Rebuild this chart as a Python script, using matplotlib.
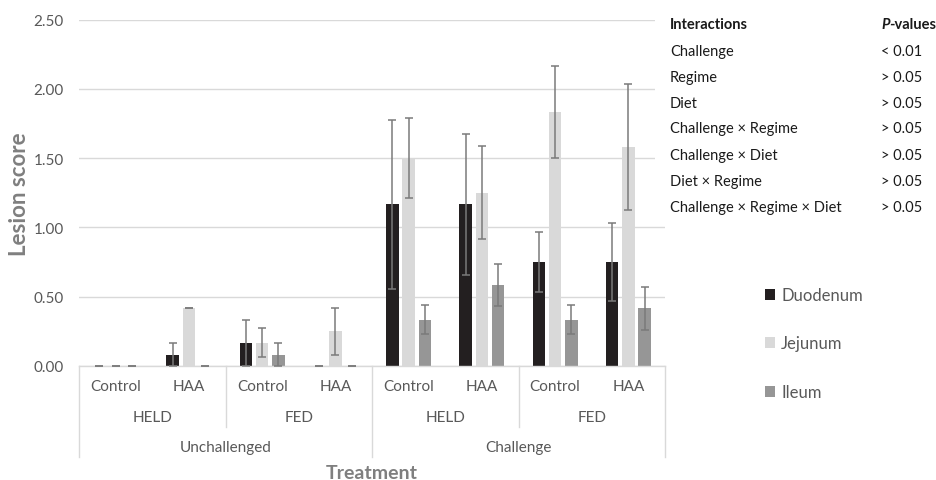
import matplotlib
matplotlib.use("Agg")
import matplotlib.pyplot as plt
import numpy as np
from matplotlib.patches import Rectangle
import matplotlib.transforms as mtransforms

plt.rcParams['font.family'] = ['Lato', 'DejaVu Sans']

# ---- data ----
diets = ["Control", "HAA", "Control", "HAA", "Control", "HAA", "Control", "HAA"]
regimes = ["HELD", "FED", "HELD", "FED"]
challenges = ["Unchallenged", "Challenge"]
series = ["Duodenum", "Jejunum", "Ileum"]

duodenum = [0.0, 0.083, 0.167, 0.0, 1.167, 1.167, 0.75, 0.75]
duodenum_err = [0.0, 0.083, 0.167, 0.0, 0.61, 0.51, 0.214, 0.283]
jejunum = [0.0, 0.417, 0.167, 0.25, 1.50, 1.25, 1.833, 1.583]
jejunum_err = [0.0, 0.0, 0.105, 0.17, 0.29, 0.335, 0.335, 0.455]
ileum = [0.0, 0.0, 0.083, 0.0, 0.333, 0.583, 0.333, 0.417]
ileum_err = [0.0, 0.0, 0.083, 0.0, 0.105, 0.153, 0.105, 0.155]

interactions = ["Challenge", "Regime", "Diet", "Challenge \u00d7 Regime",
                "Challenge \u00d7 Diet", "Diet \u00d7 Regime",
                "Challenge \u00d7 Regime \u00d7 Diet"]
p_values = ["< 0.01", "> 0.05", "> 0.05", "> 0.05", "> 0.05", "> 0.05", "> 0.05"]

colors = ["#231f20", "#d9d9d9", "#969696"]
err_color = "#7a7a7a"
text_gray = "#595959"
grid_gray = "#d9d9d9"

W, H = 936, 481
fig = plt.figure(figsize=(W / 100, H / 100), dpi=100)
ax = fig.add_axes([79 / W, 1 - 367 / H, (665 - 79) / W, (367 - 20.7) / H])

x = np.arange(len(diets))
offsets = [-0.222, 0.0, 0.222]
width = 0.173
vals = [duodenum, jejunum, ileum]
errs = [duodenum_err, jejunum_err, ileum_err]
handles = []
for i in range(3):
    b = ax.bar(x + offsets[i], vals[i], width, color=colors[i], label=series[i], zorder=2)
    handles.append(b)
    ax.errorbar(x + offsets[i], vals[i], yerr=errs[i], fmt='none', ecolor=err_color,
                elinewidth=1.1, capsize=3.0, capthick=1.1, zorder=3)

ax.set_xlim(-0.5, len(diets) - 0.5)
ax.set_ylim(0, 2.5)
ax.set_yticks(np.arange(0, 2.51, 0.5))
ax.set_yticklabels([f"{v:.2f}" for v in np.arange(0, 2.51, 0.5)])
ax.tick_params(axis='y', length=0, pad=11, labelsize=11, labelcolor=text_gray)
ax.tick_params(axis='x', length=0, labelbottom=False)
ax.yaxis.grid(True, color=grid_gray, linewidth=1.0, zorder=0)
ax.set_axisbelow(True)
for s in ["top", "right", "left"]:
    ax.spines[s].set_visible(False)
ax.spines["bottom"].set_color(grid_gray)
ax.spines["bottom"].set_linewidth(1.0)

# multi-level category axis
trans = mtransforms.blended_transform_factory(ax.transData, ax.transAxes)
for i, d in enumerate(diets):
    ax.text(i, -0.058, d, transform=trans, ha='center', va='center',
            fontsize=11, color=text_gray)
for j, r in enumerate(regimes):
    ax.text(2 * j + 0.5, -0.147, r, transform=trans, ha='center', va='center',
            fontsize=11, color=text_gray)
for k, c in enumerate(challenges):
    ax.text(4 * k + 1.5, -0.234, c, transform=trans, ha='center', va='center',
            fontsize=11, color=text_gray)
for xb in [-0.5, 3.5, 7.5]:
    ax.plot([xb, xb], [0, -0.263], transform=trans, color=grid_gray, lw=1.0, clip_on=False)
for xb in [1.5, 5.5]:
    ax.plot([xb, xb], [0, -0.176], transform=trans, color=grid_gray, lw=1.0, clip_on=False)

ax.text(0.5, -0.308, "Treatment", transform=ax.transAxes, ha='center', va='center',
        fontsize=14, fontweight='bold', color="#7f7f7f")
ax.text(-0.1007, 0.5, "Lesion score", transform=ax.transAxes, ha='center', va='center',
        rotation=90, fontsize=16, fontweight='bold', color="#7f7f7f")

# legend
leg = fig.legend(handles=handles, labels=series, loc='upper left',
                 bbox_to_anchor=(750 / W, 1 - 273 / H), frameon=False,
                 fontsize=12, labelcolor=text_gray, handlelength=0.62, handleheight=0.62,
                 handletextpad=0.35, labelspacing=1.95)

# table with white background over gridlines
fig.patches.append(Rectangle((655 / W, 1 - 220 / H), (W - 655) / W, 220 / H,
                             transform=fig.transFigure, facecolor='white',
                             edgecolor='none', zorder=1))
row_y = [25, 51.7, 78, 104, 129.5, 155.7, 181.7, 208]
tfs = 10.5
fig.text(670 / W, 1 - row_y[0] / H, "Interactions", ha='left', va='center',
         fontsize=tfs, fontweight='bold', color="#1a1a1a", zorder=2)
fig.text(881 / W, 1 - row_y[0] / H, "P", ha='left', va='center',
         fontsize=tfs, fontweight='bold', style='italic', color="#1a1a1a", zorder=2)
fig.text(889 / W, 1 - row_y[0] / H, "-values", ha='left', va='center',
         fontsize=tfs, fontweight='bold', color="#1a1a1a", zorder=2)
for i, (name, p) in enumerate(zip(interactions, p_values)):
    yy = 1 - row_y[i + 1] / H
    fig.text(670 / W, yy, name, ha='left', va='center', fontsize=tfs,
             color="#1a1a1a", zorder=2)
    fig.text(881 / W, yy, p, ha='left', va='center', fontsize=tfs,
             color="#1a1a1a", zorder=2)

fig.savefig("out.png", dpi=100)
